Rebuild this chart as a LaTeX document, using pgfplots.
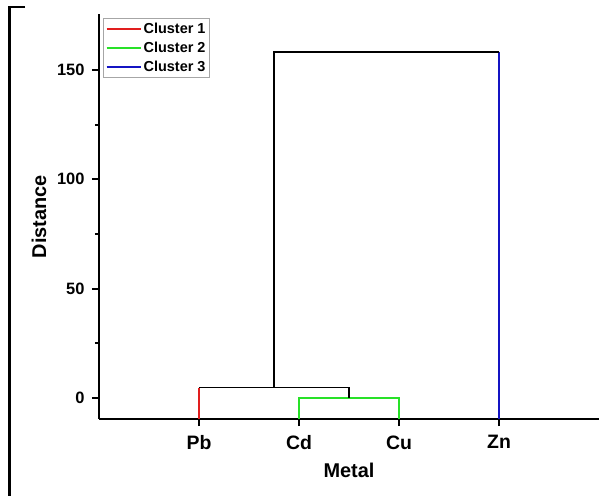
\documentclass[border=0pt]{standalone}
\usepackage{pgfplots}
\pgfplotsset{compat=1.18}
\usepackage{fontspec}
\setmainfont{Liberation Sans}
\definecolor{cred}{RGB}{225,30,30}
\definecolor{cgreen}{RGB}{40,225,40}
\definecolor{cblue}{RGB}{20,20,195}
\begin{document}
\begin{tikzpicture}
\useasboundingbox (0,0) rectangle (599bp,496bp);
\draw[line width=2.2bp] (25bp,489bp) -- (9.5bp,489bp) -- (9.5bp,-2bp);
\begin{axis}[
  at={(99bp,77bp)}, anchor=south west,
  scale only axis, width=500bp, height=405bp,
  xmin=0, xmax=5, ymin=-9.6, ymax=175.6,
  axis lines*=left,
  axis line style={line width=2.4bp},
  clip=false,
  xtick={1,2,3,4}, xticklabels={Pb,Cd,Cu,Zn},
  ytick={0,50,100,150}, minor ytick={25,75,125},
  tick align=outside,
  major tick length=7bp, minor tick length=4bp,
  tick style={line width=1.8bp, black},
  /pgf/number format/assume math mode=true,
  yticklabel style={font=\fontsize{16.5}{18}\selectfont\bfseries, xshift=-4bp},
  xticklabel style={font=\fontsize{19.5}{21}\selectfont\bfseries, yshift=-6bp},
  xlabel={Metal}, ylabel={Distance},
  label style={font=\fontsize{20}{22}\selectfont\bfseries},
  xlabel style={yshift=-6bp},
  ylabel style={yshift=4bp},
  legend style={at={(0.008,0.99)}, anchor=north west, draw=gray!70, line width=0.9bp,
    font=\fontsize{14.5}{16}\selectfont\bfseries, inner sep=2.2bp, row sep=3.2bp},
  legend cell align=left,
  legend image code/.code={\draw[#1] (0bp,0bp) -- (34bp,0bp);},
]
\addplot[cred, line width=2bp] coordinates {(1,-9.6) (1,4.8)};
\addlegendentry{Cluster 1}
\addplot[cgreen, line width=2bp] coordinates {(2,-9.6) (2,0.2) (3,0.2) (3,-9.6)};
\addlegendentry{Cluster 2}
\addplot[cblue, line width=2bp] coordinates {(4,158.4) (4,-9.6)};
\addlegendentry{Cluster 3}
\addplot[black, line width=1.8bp, forget plot] coordinates {(2.5,0.2) (2.5,4.8) (1,4.8)};
\addplot[black, line width=1.8bp, forget plot] coordinates {(1.75,4.8) (1.75,158.4) (4,158.4)};
\end{axis}
\end{tikzpicture}
\end{document}
